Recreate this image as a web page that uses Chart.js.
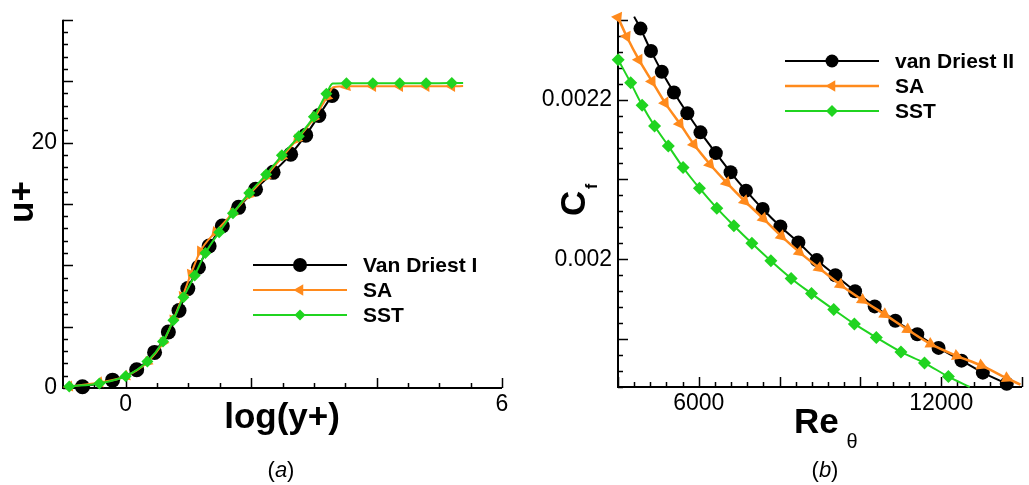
<!DOCTYPE html>
<html>
<head>
<meta charset="utf-8">
<script src="https://cdn.jsdelivr.net/npm/chart.js@4.4.1/dist/chart.umd.min.js"></script>
<style>
    html, body { margin: 0; padding: 0; background: #fff; }
    #lienzo { position: relative; width: 1029px; height: 485px; overflow: hidden; }
    .panel { position: absolute; top: 0; height: 485px; }
</style>
</head>
<body>
<div id="lienzo">
    <div class="panel" style="left:0;width:520px"><canvas id="graficaPerfil" width="520" height="485"></canvas></div>
    <div class="panel" style="left:520px;width:509px"><canvas id="graficaFriccion" width="509" height="485"></canvas></div>
</div>
<script>
// (a) perfil de velocidad u+ vs log(y+)
const vd1X = [-0.69, -0.21, 0.175, 0.46, 0.68, 0.85, 0.99, 1.16, 1.33, 1.54, 1.80, 2.07, 2.35, 2.63, 2.87, 3.08, 3.29];
const vd1Y = [0.1, 0.64, 1.49, 2.9, 4.56, 6.32, 8.1, 9.84, 11.57, 13.2, 14.72, 16.19, 17.57, 19.04, 20.6, 22.2, 23.84];

const saX = [-0.90, -0.42, 0, 0.345, 0.595, 0.76, 0.91, 1.04, 1.19, 1.43, 1.70, 1.96, 2.23, 2.49, 2.73, 3.0, 3.21, 3.52, 3.94, 4.37, 4.79, 5.20];
const saY = [0.13, 0.45, 0.96, 2.1, 3.7, 5.57, 7.5, 9.3, 11.15, 12.7, 14.2, 15.7, 17.2, 18.8, 20.24, 21.97, 23.7, 24.58, 24.58, 24.58, 24.58, 24.58];
const saExtraX = [3.31, 5.38];
const saExtraY = [24.5, 24.6];

const sstX = [-0.90, -0.42, 0, 0.345, 0.595, 0.76, 0.92, 1.10, 1.27, 1.49, 1.71, 1.97, 2.24, 2.49, 2.76, 3.0, 3.20, 3.52, 3.94, 4.37, 4.79, 5.20];
const sstY = [0.13, 0.37, 0.96, 2.16, 3.79, 5.52, 7.39, 9.17, 10.99, 12.69, 14.24, 15.89, 17.39, 18.96, 20.51, 22.11, 23.97, 24.83, 24.83, 24.83, 24.83, 24.85];
const sstExtraX = [3.30, 5.38];
const sstExtraY = [24.8, 24.85];

const perfilEtiquetasX = [0, 6];
const perfilEtiquetasY = [0, 20];

// (b) coeficiente de friccion Cf vs Re_theta
const vd2X = [4557, 4816, 5084, 5384, 5716, 6041, 6422, 6786, 7168, 7581, 8019, 8465, 8919, 9381, 9868, 10354, 10865, 11408, 11935, 12503, 13030, 13622];
const vd2Y = [0.002289, 0.002261, 0.002235, 0.002209, 0.002183, 0.002159, 0.002133, 0.002109, 0.002086, 0.002063, 0.002041, 0.002021, 0.001999, 0.001980, 0.001960, 0.001941, 0.001923, 0.001906, 0.001889, 0.001873, 0.001858, 0.001844];
const vd2ExtraX = [4400];
const vd2ExtraY = [0.002304];

const sa2X = [4000, 4216, 4516, 4841, 5165, 5530, 5878, 6276, 6689, 7135, 7597, 8043, 8489, 8976, 9503, 10046, 10597, 11165, 11733, 12381, 12989, 13622];
const sa2Y = [0.002303, 0.002279, 0.002250, 0.002223, 0.002196, 0.002170, 0.002144, 0.002119, 0.002096, 0.002073, 0.002051, 0.002029, 0.002009, 0.001989, 0.001968, 0.001949, 0.001931, 0.001912, 0.001894, 0.001879, 0.001867, 0.001851];
const sa2ExtraX = [13962];
const sa2ExtraY = [0.001843];

const sst2X = [4005, 4314, 4597, 4905, 5246, 5611, 6016, 6446, 6868, 7314, 7784, 8286, 8789, 9341, 9851, 10394, 11003, 11586, 12178];
const sst2Y = [0.002250, 0.002221, 0.002193, 0.002167, 0.002142, 0.002115, 0.002089, 0.002064, 0.002042, 0.002020, 0.001998, 0.001976, 0.001957, 0.001937, 0.001919, 0.001902, 0.001884, 0.001870, 0.001853];
const sst2ExtraX = [12705];
const sst2ExtraY = [0.001840];

const friccionEtiquetasX = [6000, 12000];
const friccionEtiquetasY = [0.002, 0.0022];

const NEGRO = '#000000';
const NARANJA = '#ff8a1c';
const VERDE = '#20d420';
const FUENTE = "'Liberation Sans', Arial, Helvetica, sans-serif";

function rango(desde, hasta, paso) {
    const valores = [];
    const n = Math.round((hasta - desde) / paso);
    for (let i = 0; i <= n; i++) {
        valores.push(desde + i * paso);
    }
    return valores;
}

function puntos(xs, ys) {
    return xs.map((x, i) => ({ x: x, y: ys[i] }));
}

// giro del triangulo segun la tangente de la curva (en pixeles)
function giroTangente(sentido) {
    return ctx => {
        const datos = ctx.dataset.data;
        const i = ctx.dataIndex;
        const sx = ctx.chart.scales.x;
        const sy = ctx.chart.scales.y;
        if (!datos || i === undefined || !sx || !sy) {
            return -90;
        }
        const a = datos[Math.max(0, i - 1)];
        const b = datos[Math.min(datos.length - 1, i + 1)];
        const dx = sx.getPixelForValue(b.x) - sx.getPixelForValue(a.x);
        const dy = sy.getPixelForValue(b.y) - sy.getPixelForValue(a.y);
        let ang = Math.atan2(dy, dx) * 180 / Math.PI;
        if (sentido < 0) {
            ang += 180;
        }
        return ang + 90;
    };
}

function crearSerie(etiqueta, xs, ys, extraX, extraY, color, forma, giro, radio, grosor, orden) {
    const marcas = puntos(xs, ys);
    const linea = marcas.concat(puntos(extraX, extraY)).sort((a, b) => a.x - b.x);
    return [
        {
            data: linea,
            borderColor: color,
            borderWidth: grosor,
            pointRadius: 0,
            cubicInterpolationMode: 'monotone',
            fill: false,
            clip: false,
            order: orden + 0.5
        },
        {
            label: etiqueta,
            data: marcas,
            showLine: false,
            pointStyle: forma,
            pointRotation: giro,
            pointRadius: radio,
            pointBackgroundColor: color,
            pointBorderColor: color,
            pointBorderWidth: 0,
            borderColor: color,
            grosorLinea: grosor,
            clip: false,
            order: orden
        }
    ];
}

// ejes estilo Tecplot: linea izquierda e inferior con marcas hacia dentro
const ejesTecplot = {
    id: 'ejesTecplot',
    beforeDatasetsDraw(chart, args, opts) {
        const { ctx, chartArea: a, scales } = chart;
        const x = scales.x;
        const y = scales.y;
        ctx.save();
        ctx.strokeStyle = NEGRO;
        ctx.lineWidth = 2;
        ctx.beginPath();
        ctx.moveTo(a.left, a.top);
        ctx.lineTo(a.left, a.bottom);
        ctx.lineTo(a.right, a.bottom);
        ctx.stroke();

        ctx.lineWidth = 1.5;
        ctx.beginPath();
        opts.xMayor.forEach(v => {
            const px = Math.round(x.getPixelForValue(v)) + 0.5;
            ctx.moveTo(px, a.bottom);
            ctx.lineTo(px, a.bottom - 10);
        });
        opts.xMenor.forEach(v => {
            const px = Math.round(x.getPixelForValue(v)) + 0.5;
            ctx.moveTo(px, a.bottom);
            ctx.lineTo(px, a.bottom - 5);
        });
        opts.yMayor.forEach(v => {
            const py = Math.round(y.getPixelForValue(v)) + 0.5;
            ctx.moveTo(a.left, py);
            ctx.lineTo(a.left + 10, py);
        });
        opts.yMenor.forEach(v => {
            const py = Math.round(y.getPixelForValue(v)) + 0.5;
            ctx.moveTo(a.left, py);
            ctx.lineTo(a.left + 5, py);
        });
        ctx.stroke();
        ctx.restore();
    },
    afterDraw(chart, args, opts) {
        const ctx = chart.ctx;
        ctx.save();
        ctx.fillStyle = NEGRO;

        // leyenda
        const ley = opts.leyenda;
        const series = chart.data.datasets.filter(d => d.label);
        series.forEach((d, i) => {
            const yy = ley.y + i * ley.paso;
            ctx.strokeStyle = d.borderColor;
            ctx.lineWidth = d.grosorLinea;
            ctx.beginPath();
            ctx.moveTo(ley.x1, yy);
            ctx.lineTo(ley.x2, yy);
            ctx.stroke();
            ctx.fillStyle = d.pointBackgroundColor;
            Chart.helpers.drawPoint(ctx, {
                pointStyle: d.pointStyle,
                rotation: d.pointStyle === 'triangle' ? -90 : 0,
                radius: ley.radios[i],
                borderWidth: 0
            }, (ley.x1 + ley.x2) / 2, yy);
            ctx.fillStyle = NEGRO;
            ctx.font = 'bold 21px ' + FUENTE;
            ctx.textAlign = 'left';
            ctx.textBaseline = 'middle';
            ctx.fillText(d.label, ley.texto, yy + 1);
        });

        opts.dibujarTitulos(ctx);
        ctx.restore();
    }
};

function textoPanel(ctx, letra, cx, base) {
    ctx.font = '22px ' + FUENTE;
    const wA = ctx.measureText('(').width;
    const wC = ctx.measureText(')').width;
    ctx.font = 'italic 22px ' + FUENTE;
    const wL = ctx.measureText(letra).width;
    const x0 = cx - (wA + wL + wC) / 2;
    ctx.textAlign = 'left';
    ctx.textBaseline = 'alphabetic';
    ctx.font = '22px ' + FUENTE;
    ctx.fillText('(', x0, base);
    ctx.font = 'italic 22px ' + FUENTE;
    ctx.fillText(letra, x0 + wA, base);
    ctx.font = '22px ' + FUENTE;
    ctx.fillText(')', x0 + wA + wL, base);
}

function opcionesEje(etiquetas, padding, ajuste) {
    return {
        grid: { display: false, drawTicks: false },
        border: { display: false },
        afterBuildTicks: scale => {
            scale.ticks = etiquetas.map(v => ({ value: v }));
        },
        afterFit: ajuste,
        ticks: {
            autoSkip: false,
            maxRotation: 0,
            padding: padding,
            color: NEGRO,
            font: { family: FUENTE, size: 23 },
            callback: v => String(v)
        }
    };
}

// ---- (a) ----
const datosPerfil = []
    .concat(crearSerie('Van Driest I', vd1X, vd1Y, [], [], NEGRO, 'circle', 0, 7.5, 2, 5))
    .concat(crearSerie('SA', saX, saY, saExtraX, saExtraY, NARANJA, 'triangle', giroTangente(-1), 6.5, 2, 3))
    .concat(crearSerie('SST', sstX, sstY, sstExtraX, sstExtraY, VERDE, 'rectRot', 0, 6, 2, 1));

new Chart(document.getElementById('graficaPerfil'), {
    type: 'line',
    data: { datasets: datosPerfil },
    plugins: [ejesTecplot],
    options: {
        responsive: false,
        animation: false,
        layout: { padding: { left: 0, top: 14, right: 18, bottom: 0 } },
        scales: {
            x: Object.assign({ type: 'linear', min: -1, max: 6 },
                opcionesEje(perfilEtiquetasX, 3, s => { s.height = 97; })),
            y: Object.assign({ type: 'linear', min: 0, max: 30 },
                opcionesEje(perfilEtiquetasY, 6, s => { s.width = 63; }))
        },
        plugins: {
            legend: { display: false },
            tooltip: { enabled: false },
            ejesTecplot: {
                xMayor: rango(0, 6, 2),
                xMenor: rango(-0.5, 5.5, 0.5).filter(v => Math.abs(v % 2) > 1e-9),
                yMayor: rango(0, 30, 5),
                yMenor: rango(0, 30, 1).filter(v => v % 5 !== 0),
                leyenda: { x1: 253, x2: 347, y: 265, paso: 25, texto: 363, radios: [7, 6.5, 5.5] },
                dibujarTitulos: ctx => {
                    ctx.fillStyle = NEGRO;
                    ctx.font = 'bold 35px ' + FUENTE;
                    ctx.textAlign = 'center';
                    ctx.textBaseline = 'alphabetic';
                    ctx.fillText('log(y+)', 282, 428);
                    ctx.save();
                    ctx.translate(33, 202);
                    ctx.rotate(-Math.PI / 2);
                    ctx.fillText('u+', 0, 0);
                    ctx.restore();
                    textoPanel(ctx, 'a', 281, 477);
                }
            }
        }
    }
});

// ---- (b) ----
const datosFriccion = []
    .concat(crearSerie('van Driest II', vd2X, vd2Y, vd2ExtraX, vd2ExtraY, NEGRO, 'circle', 0, 7, 2, 5))
    .concat(crearSerie('SA', sa2X, sa2Y, sa2ExtraX, sa2ExtraY, NARANJA, 'triangle', giroTangente(1), 7, 2.5, 3))
    .concat(crearSerie('SST', sst2X, sst2Y, sst2ExtraX, sst2ExtraY, VERDE, 'rectRot', 0, 6.5, 2, 1));

new Chart(document.getElementById('graficaFriccion'), {
    type: 'line',
    data: { datasets: datosFriccion },
    plugins: [ejesTecplot],
    options: {
        responsive: false,
        animation: false,
        layout: { padding: { left: 0, top: 15, right: 0, bottom: 0 } },
        scales: {
            x: Object.assign({ type: 'linear', min: 4000, max: 14000 },
                opcionesEje(friccionEtiquetasX, 3, s => { s.height = 98; })),
            y: Object.assign({ type: 'linear', min: 0.00184, max: 0.0023 },
                opcionesEje(friccionEtiquetasY, 6, s => { s.width = 98; }))
        },
        plugins: {
            legend: { display: false },
            tooltip: { enabled: false },
            ejesTecplot: {
                xMayor: rango(4000, 14000, 2000),
                xMenor: rango(4000, 14000, 400).filter(v => v % 2000 !== 0),
                yMayor: rango(19, 23, 1).map(v => v / 10000),
                yMenor: rango(92, 115, 1).filter(v => v % 5 !== 0).map(v => v / 50000),
                leyenda: { x1: 265, x2: 359, y: 61, paso: 25, texto: 375, radios: [6.5, 6.5, 6] },
                dibujarTitulos: ctx => {
                    ctx.fillStyle = NEGRO;
                    ctx.textAlign = 'left';
                    ctx.textBaseline = 'alphabetic';
                    ctx.font = 'bold 35px ' + FUENTE;
                    ctx.fillText('Re', 274, 433);
                    ctx.font = '20px ' + FUENTE;
                    ctx.textAlign = 'center';
                    ctx.fillText('\u03B8', 332, 448);
                    ctx.save();
                    ctx.translate(65, 216);
                    ctx.rotate(-Math.PI / 2);
                    ctx.textAlign = 'left';
                    ctx.font = 'bold 35px ' + FUENTE;
                    ctx.fillText('C', 0, 0);
                    ctx.font = 'bold 16px ' + FUENTE;
                    ctx.fillText('f', 27, 12);
                    ctx.restore();
                    textoPanel(ctx, 'b', 305, 477);
                }
            }
        }
    }
});
</script>
</body>
</html>
